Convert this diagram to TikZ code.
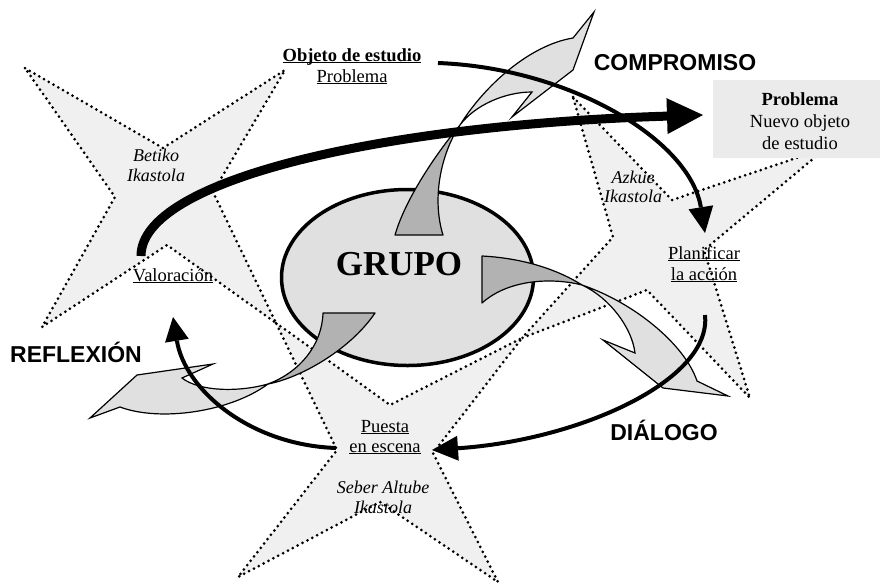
\documentclass[tikz,border=0pt]{standalone}
\usepackage{fontspec}
\setmainfont{Liberation Serif}
\setsansfont{Liberation Sans}
\usetikzlibrary{arrows.meta,shapes.geometric}
\definecolor{starfill}{gray}{0.94}
\definecolor{ellfill}{gray}{0.88}
\definecolor{swlight}{gray}{0.88}
\definecolor{swdark}{gray}{0.70}
\definecolor{boxfill}{gray}{0.92}
\newcommand\ulin[1]{\underline{\smash{#1}}}
\begin{document}
\begin{tikzpicture}[x=1pt,y=-1pt,
  starshape/.style={fill=starfill,draw=black,line width=3pt,line cap=round,dash pattern=on 0pt off 5.5pt},
  swdarkst/.style={fill=swdark,draw=black,line width=1.2pt,line join=round},
  swlightst/.style={fill=swlight,draw=black,line width=1.2pt,line join=miter},
  lbl/.style={font=\fontsize{18.5}{22}\selectfont,inner sep=0pt,anchor=base},
  ital/.style={font=\fontsize{18}{21}\selectfont\itshape,inner sep=0pt,anchor=base},
  bigsans/.style={font=\fontsize{23}{26}\selectfont\sffamily\bfseries,inner sep=0pt,anchor=base},
  thickarc/.style={line width=9pt,-{Triangle[length=36pt,width=36pt,line width=0pt]}},
  thinarc/.style={line width=4pt,-{Triangle[length=26pt,width=25pt,line width=0pt]}}
]
\useasboundingbox (0,0) rectangle (880,587);

% stars
\path[starshape] (25,68) -- (163,148) -- (285,70) -- (213,192) -- (276,323) -- (167,245) -- (42,327) -- (115,197) -- cycle;
\path[starshape] (573,97) -- (672,200) -- (826,148) -- (704,250) -- (750,398) -- (647,290) -- (522,338) -- (613,237) -- cycle;
\path[starshape] (276,323) -- (390,405) -- (522,338) -- (433,453) -- (498,582) -- (380,502) -- (238,577) -- (337,450) -- cycle;

% box
\node[fill=boxfill,minimum width=167pt,minimum height=78pt,inner sep=0pt,anchor=north west] (box) at (713,80) {};

% ellipse
\node[ellipse,draw=black,fill=ellfill,line width=3.5pt,minimum width=252pt,minimum height=176pt,inner sep=0pt] (grupo) at (407.5,277.5) {};

% swoosh A (up)
\draw[swdarkst] (395,235) .. controls (405,200) and (435,155) .. (460,125) .. controls (440,155) and (432,200) .. (443,235) -- cycle;
\draw[swlightst] (460,125) .. controls (485,85) and (530,45) .. (573,38) -- (594,12) -- (573,70) -- (512,117) -- (532,92) .. controls (505,92) and (475,105) .. (460,125) -- cycle;
% swoosh B (right)
\draw[swdarkst] (482,256) .. controls (520,258) and (555,268) .. (582,285) .. controls (555,278) and (510,278) .. (482,303) -- cycle;
\draw[swlightst] (582,285) .. controls (635,303) and (685,345) .. (697,381) -- (728,396) -- (663,388) -- (603,340) -- (635,353) .. controls (632,328) and (610,298) .. (582,285) -- cycle;
% swoosh C (left)
\draw[swdarkst] (323,313) .. controls (322,345) and (300,372) .. (268,384) .. controls (300,378) and (350,350) .. (375,313) -- cycle;
\draw[swlightst] (268,384) .. controls (240,392) and (200,392) .. (182,378) -- (213,364) -- (137,375) -- (90,418) -- (120,407) .. controls (160,422) and (230,412) .. (268,384) -- cycle;

% arc end points
\coordinate (bigS) at (141,256);
\coordinate (bigE) at (703,115);
\coordinate (objS) at (438,63);
\coordinate (planE) at (705,233);
\coordinate (dialS) at (705,315);
\coordinate (puestaE) at (432,450);
\coordinate (reflS) at (336,448);
\coordinate (valE) at (173,317);

\draw[thickarc] (bigS) .. controls (141,180) and (380,125) .. (bigE);
\draw[thinarc] (objS) .. controls (570,68) and (690,140) .. (planE);
\draw[thinarc] (dialS) .. controls (712,380) and (580,440) .. (puestaE);
\draw[line width=4pt,-{Triangle[length=24pt,width=24pt,line width=0pt]}] (reflS) .. controls (250,445) and (185,390) .. (valE);

% texts
\node[font=\fontsize{35}{40}\selectfont\bfseries,inner sep=0pt,anchor=base] (grupot) at (399,275) {GRUPO};
\node[lbl,font=\fontsize{18.5}{22}\selectfont\bfseries] (objt) at (352,61) {\ulin{Objeto de estudio}};
\node[lbl] (probt) at (352,82) {\ulin{Problema}};
\node[bigsans] (comp) at (675,70) {COMPROMISO};
\node[bigsans] (refl) at (76,362) {REFLEXIÓN};
\node[bigsans] (dial) at (664,440) {DIÁLOGO};
\node[lbl,font=\fontsize{18.5}{22}\selectfont\bfseries] (bp1) at (800,105) {Problema};
\node[lbl] (bp2) at (800,127) {Nuevo objeto};
\node[lbl] (bp3) at (800,149) {de estudio};
\node[ital] (bet1) at (156,161) {Betiko};
\node[ital] (bet2) at (156,181) {Ikastola};
\node[lbl] (valt) at (173,281) {\ulin{Valoración}};
\node[ital] (az1) at (633,183) {Azkue};
\node[ital] (az2) at (633,202) {Ikastola};
\node[lbl] (pl1) at (704,259) {\ulin{Planificar}};
\node[lbl] (pl2) at (704,280) {\ulin{la acción}};
\node[lbl] (pu1) at (385,432) {\ulin{Puesta}};
\node[lbl] (pu2) at (385,452) {\ulin{en escena}};
\node[ital] (sa1) at (383,493) {Seber Altube};
\node[ital] (sa2) at (383,513) {Ikastola};
\end{tikzpicture}
\end{document}
